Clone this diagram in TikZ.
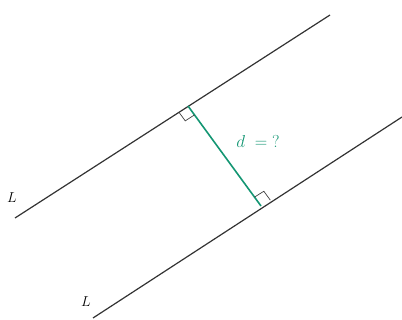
\documentclass[tikz,border=0pt]{standalone}
\usetikzlibrary{calc}
\definecolor{distgreen}{RGB}{20,150,115}
\begin{document}
\begin{tikzpicture}[x=1pt,y=-1pt,
  linestyle/.style={line width=1.2pt, black!80},
  perpstyle/.style={line width=1.6pt, distgreen},
  marker/.style={line width=0.7pt, black!75},
  lbl/.style={font=\fontsize{15}{17}\selectfont, inner sep=0pt}]
\useasboundingbox (0,0) rectangle (402,320);
\coordinate (a1) at (15,218);
\coordinate (a2) at (330,15);
\coordinate (b1) at (93,318);
\coordinate (b2) at (402,117);
\coordinate (p) at (188,106);
\coordinate (q) at (261,206);
\draw[linestyle] (a1) -- (a2);
\draw[linestyle] (b1) -- (b2);
\draw[perpstyle] (p) -- (q);
% right angle marks
\coordinate (p1) at ($(p)!11pt!(a1)$);
\coordinate (p2) at ($(p)!11pt!(q)$);
\coordinate (q1) at ($(q)!11pt!(b2)$);
\coordinate (q2) at ($(q)!11pt!(p)$);
\draw[marker] (p1) -- ($(p1)+(p2)-(p)$) -- (p2);
\draw[marker] (q1) -- ($(q1)+(q2)-(q)$) -- (q2);
\node[lbl] (l1) at (12,198) {$L$};
\node[lbl] (l2) at (86,302) {$L$};
\node[lbl, text=distgreen, font=\fontsize{16}{18}\selectfont] (d) at (258,142) {$d\;=\;?$};
\end{tikzpicture}
\end{document}
